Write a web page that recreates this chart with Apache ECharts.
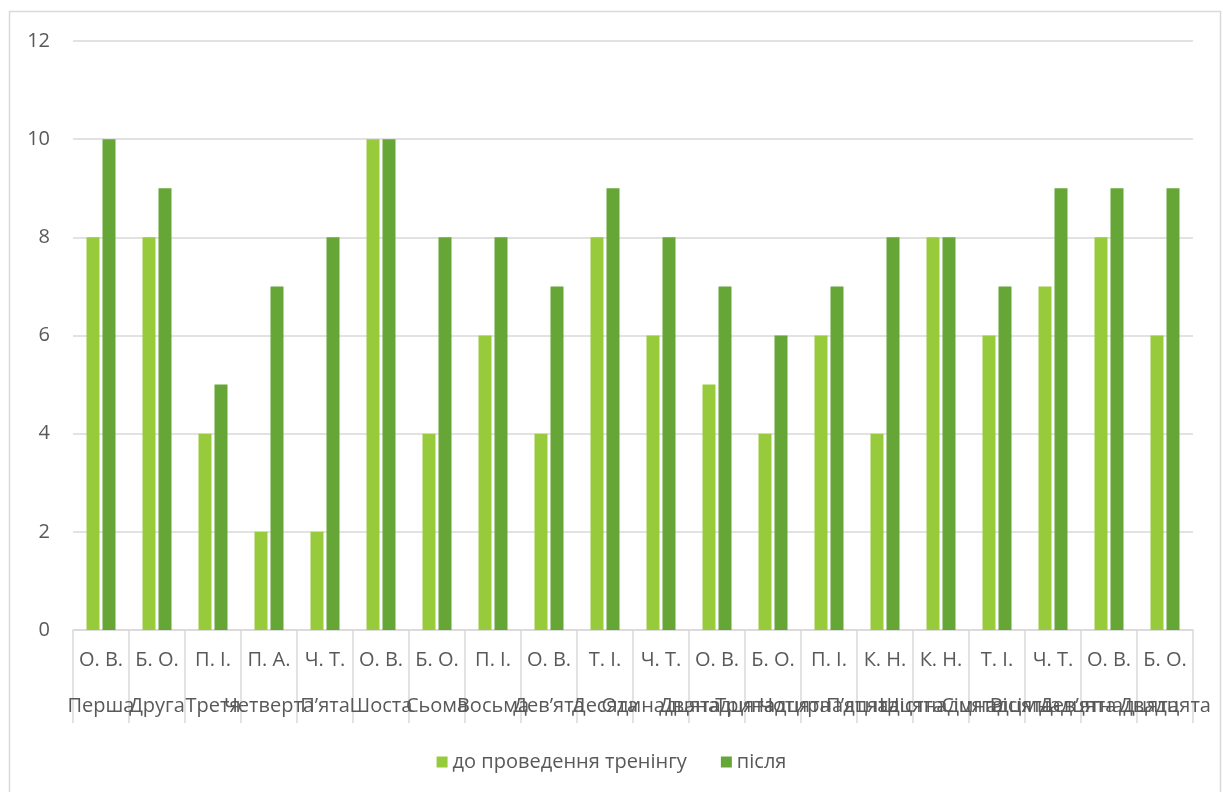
<!DOCTYPE html>
<html>
<head>
<meta charset="utf-8">
<script src="https://cdn.jsdelivr.net/npm/echarts@6/dist/echarts.min.js"></script>
<style>
  html, body { margin: 0; padding: 0; background: #ffffff; }
  #chart { width: 1223px; height: 792px; }
</style>
</head>
<body>
<div id="chart"></div>
<script>
// Inner category level: initials of each participant
const initials = ['О. В.', 'Б. О.', 'П. І.', 'П. А.', 'Ч. Т.', 'О. В.', 'Б. О.', 'П. І.', 'О. В.', 'Т. І.',
                  'Ч. Т.', 'О. В.', 'Б. О.', 'П. І.', 'К. Н.', 'К. Н.', 'Т. І.', 'Ч. Т.', 'О. В.', 'Б. О.'];
// Outer category level: group names
const groups = ['Перша', 'Друга', 'Третя', 'Четверта', 'П’ята', 'Шоста', 'Сьома', 'Восьма', 'Дев’ята', 'Десята',
                'Одинадцята', 'Дванадцята', 'Тринадцята', 'Чотирнадцята', 'П’ятнадцята', 'Шістнадцята',
                'Сімнадцята', 'Вісімнадцята', 'Дев’ятнадцята', 'Двадцята'];
// Scores before and after the training
const before = [8, 8, 4, 2, 2, 10, 4, 6, 4, 8, 6, 5, 4, 6, 4, 8, 6, 7, 8, 6];
const after  = [10, 9, 5, 7, 8, 10, 8, 8, 7, 9, 8, 7, 6, 7, 8, 8, 7, 9, 9, 9];
const yTicks = { min: 0, max: 12, interval: 2 };

const FONT = '"Open Sans", "Noto Sans", sans-serif';
const TEXT = '#595959';
const LINE = '#d9d9d9';
const FS = 20;

const chart = echarts.init(document.getElementById('chart'), null, { renderer: 'canvas' });
chart.setOption({
  animation: false,
  backgroundColor: '#ffffff',
  textStyle: { fontFamily: FONT },
  graphic: [{
    type: 'rect',
    shape: { x: 9.5, y: 11.5, width: 1211, height: 800 },
    style: { fill: 'none', stroke: LINE, lineWidth: 1.5 },
    silent: true, z: -1
  }],
  grid: { left: 73, right: 30, top: 41, bottom: 162, containLabel: false },
  legend: {
    top: 747,
    left: 'center',
    itemWidth: 11, itemHeight: 11, itemGap: 34,
    icon: 'rect',
    textStyle: { color: TEXT, fontSize: FS, fontFamily: FONT },
    data: ['до проведення тренінгу', 'після']
  },
  xAxis: [{
    type: 'category',
    data: initials,
    boundaryGap: true,
    axisLine: { show: true, lineStyle: { color: LINE, width: 1.5 } },
    axisTick: { show: true, interval: 0, length: 93, lineStyle: { color: LINE, width: 1.5 } },
    axisLabel: { interval: 0, margin: 20, color: TEXT, fontSize: FS, fontFamily: FONT }
  }, {
    type: 'category',
    data: groups,
    position: 'bottom',
    boundaryGap: true,
    axisLine: { show: false },
    axisTick: { show: false },
    axisLabel: { interval: 0, margin: 66, color: TEXT, fontSize: FS, fontFamily: FONT, hideOverlap: false }
  }],
  yAxis: {
    type: 'value',
    min: yTicks.min, max: yTicks.max, interval: yTicks.interval,
    axisLine: { show: false },
    axisTick: { show: false },
    axisLabel: { color: TEXT, fontSize: FS, fontFamily: FONT, margin: 23 },
    splitLine: { lineStyle: { color: LINE, width: 1.5 } }
  },
  series: [{
    name: 'до проведення тренінгу',
    type: 'bar',
    data: before,
    barWidth: 13,
    barGap: '23%',
    itemStyle: { color: '#97cb3c' }
  }, {
    name: 'після',
    type: 'bar',
    data: after,
    barWidth: 13,
    itemStyle: { color: '#65a637' }
  }]
});
</script>
</body>
</html>
